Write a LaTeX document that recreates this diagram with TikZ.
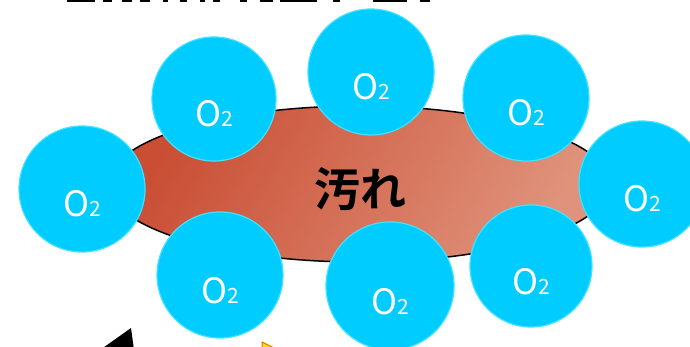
\documentclass[tikz,border=0pt]{standalone}
\usepackage{fontspec}
\newfontfamily\jpfont{Noto Sans CJK JP}
\newfontfamily\jpbold{Noto Sans CJK JP Bold}
\usetikzlibrary{shapes.geometric}
\definecolor{molfill}{HTML}{00CCFF}
\definecolor{moledge}{HTML}{3FE3FF}
\definecolor{dirtA}{HTML}{C94E34}
\definecolor{dirtB}{HTML}{E0937C}
\tikzset{
  mol/.style={circle, fill=molfill, draw=moledge, line width=1.2pt, inner sep=0pt},
  otext/.style={anchor=base, text=white, inner sep=0pt, font=\jpfont},
  dirt/.style={ellipse, draw=black, line width=1.5pt, left color=dirtA, right color=dirtB, shading angle=60, inner sep=0pt, minimum width=502pt, minimum height=156pt},
}
\newcommand{\oxy}{{\fontsize{35}{35}\selectfont O}{\fontsize{21}{21}\selectfont 2}}
\begin{document}
\begin{tikzpicture}[x=1pt,y=-1pt]
\useasboundingbox (0,0) rectangle (690,347);
% clipped heading fragments
\begin{scope}
\clip (0,0) rectangle (690,347);
\foreach \a/\b in {67/95,103/112,122/132,140/150,163/168,180/187,200/205,213/220,240/247,260/273,280/317,333/340,373/407,420/430}
  \fill[black] (\a,-1) rectangle (\b,1.6);
\end{scope}
\node[dirt] (dirt) at (359,184) {};
\node[font=\jpbold\fontsize{46}{46}\selectfont, inner sep=0pt] (dtext) at (360,189) {汚れ};
\foreach \n/\x/\y/\r in {m1/82/189/63, m2/214/99/62, m3/371/72/63, m4/526/98/63, m5/642/184/63, m6/220/275/63, m7/390/286/64, m8/531/266/61}{
  \node[mol, minimum size=2*\r pt] (\n) at (\x,\y) {};
  \node[otext] (t\n) at ([yshift=-28pt]\n.center) {\oxy};
}
% partial shapes at bottom
\coordinate (tipA) at (131,328);
\fill[black] (tipA) -- (100,350) -- (134,350) -- cycle;
\coordinate (boxA) at (262,342);
\filldraw[fill=yellow!85!orange, draw=orange!90!black, line width=1pt] (boxA) -- (282,352) -- (262,352) -- cycle;
\end{tikzpicture}
\end{document}
